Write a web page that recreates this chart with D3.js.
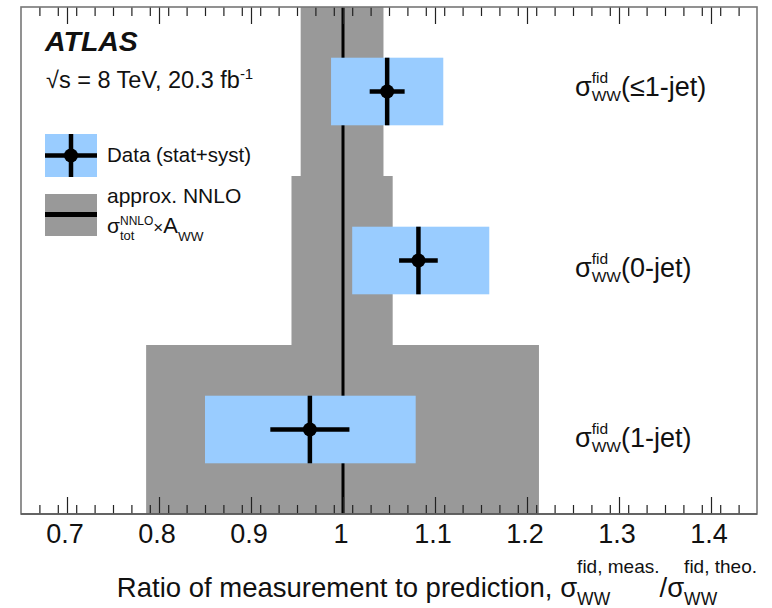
<!DOCTYPE html>
<html>
<head>
<meta charset="utf-8">
<script src="https://cdn.jsdelivr.net/npm/d3@7"></script>
<style>
  html, body { margin: 0; padding: 0; background: #fff; }
  svg { display: block; }
  text { font-family: "Liberation Sans", Arial, Helvetica, sans-serif; fill: #111; white-space: pre; }
</style>
</head>
<body>
<svg id="chart" width="772" height="608"></svg>
<script>
// Fiducial WW cross-section ratios (measured / predicted) per jet multiplicity
const categories = ["≤1-jet", "0-jet", "1-jet"];
const ratio      = [1.048, 1.082, 0.964];
const statErrLo  = [0.019, 0.021, 0.043];
const statErrHi  = [0.019, 0.021, 0.043];
const totErrLo   = [0.061, 0.072, 0.114];
const totErrHi   = [0.061, 0.077, 0.115];

// approx. NNLO prediction band (central value and uncertainty)
const theoCentral = [1.0, 1.0, 1.0];
const theoErrLo   = [0.046, 0.056, 0.214];
const theoErrHi   = [0.044, 0.054, 0.213];

// x axis ticks
const majorTicks = [0.7, 0.8, 0.9, 1.0, 1.1, 1.2, 1.3, 1.4];
const tickLabels = ["0.7", "0.8", "0.9", "1", "1.1", "1.2", "1.3", "1.4"];
const xDomain = [0.65, 1.45];

const svg = d3.select("#chart");
const frame = { left: 21, right: 757, top: 7, bottom: 514 };

const x = d3.scaleLinear().domain(xDomain).range([frame.left, frame.right]);
const y = d3.scaleBand().domain(categories).range([frame.top, frame.bottom]).padding(0);

const rows = categories.map((c, i) => ({
  cat: c, r: ratio[i],
  sLo: ratio[i] - statErrLo[i], sHi: ratio[i] + statErrHi[i],
  tLo: ratio[i] - totErrLo[i], tHi: ratio[i] + totErrHi[i],
  pLo: theoCentral[i] - theoErrLo[i], pHi: theoCentral[i] + theoErrHi[i]
}));

const GRAY = "#999999", BLUE = "#99ccff";

// theory band
svg.append("g").selectAll("rect").data(rows).join("rect")
  .attr("x", d => x(d.pLo)).attr("width", d => x(d.pHi) - x(d.pLo))
  .attr("y", d => y(d.cat)).attr("height", y.bandwidth())
  .attr("fill", GRAY);

// theory central line
svg.append("line")
  .attr("x1", x(1)).attr("x2", x(1))
  .attr("y1", frame.top).attr("y2", frame.bottom)
  .attr("stroke", "#000").attr("stroke-width", 3);

// measurement total-uncertainty boxes
const boxH = y.bandwidth() * 0.4;
const yc = d => y(d.cat) + y.bandwidth() / 2;
svg.append("g").selectAll("rect").data(rows).join("rect")
  .attr("x", d => x(d.tLo)).attr("width", d => x(d.tHi) - x(d.tLo))
  .attr("y", d => yc(d) - boxH / 2).attr("height", boxH)
  .attr("fill", BLUE);

// error bars and markers
const pts = svg.append("g");
pts.selectAll("line.h").data(rows).join("line").attr("class", "h")
  .attr("x1", d => x(d.sLo)).attr("x2", d => x(d.sHi))
  .attr("y1", yc).attr("y2", yc)
  .attr("stroke", "#000").attr("stroke-width", 4.5);
pts.selectAll("line.v").data(rows).join("line").attr("class", "v")
  .attr("x1", d => x(d.r)).attr("x2", d => x(d.r))
  .attr("y1", d => yc(d) - boxH / 2).attr("y2", d => yc(d) + boxH / 2)
  .attr("stroke", "#000").attr("stroke-width", 4.5);
pts.selectAll("circle").data(rows).join("circle")
  .attr("cx", d => x(d.r)).attr("cy", yc).attr("r", 7)
  .attr("fill", "#000");

// frame and ticks
const minorTicks = d3.range(0, 41).map(i => +(xDomain[0] + 0.02 * i).toFixed(3))
  .filter(v => v > xDomain[0] && v < xDomain[1] && !majorTicks.some(m => Math.abs(m - v) < 1e-6));

const axisB = d3.axisBottom(x).tickValues(majorTicks).tickFormat("").tickSize(-17).tickSizeOuter(0);
const axisBm = d3.axisBottom(x).tickValues(minorTicks).tickFormat("").tickSize(-9).tickSizeOuter(0);
const axisT = d3.axisTop(x).tickValues(majorTicks).tickFormat("").tickSize(-17).tickSizeOuter(0);
const axisTm = d3.axisTop(x).tickValues(minorTicks).tickFormat("").tickSize(-9).tickSizeOuter(0);

function styleAxis(g) {
  g.selectAll(".domain").remove();
  g.selectAll(".tick line").attr("stroke", "#222").attr("stroke-width", 1.2);
}
svg.append("g").attr("transform", `translate(0,${frame.bottom})`).call(axisB).call(styleAxis);
svg.append("g").attr("transform", `translate(0,${frame.bottom})`).call(axisBm).call(styleAxis);
svg.append("g").attr("transform", `translate(0,${frame.top})`).call(axisT).call(styleAxis);
svg.append("g").attr("transform", `translate(0,${frame.top})`).call(axisTm).call(styleAxis);

svg.append("rect")
  .attr("x", frame.left).attr("y", frame.top)
  .attr("width", frame.right - frame.left).attr("height", frame.bottom - frame.top)
  .attr("fill", "none").attr("stroke", "#777").attr("stroke-width", 1.6);
svg.append("line")
  .attr("x1", frame.left).attr("x2", frame.right)
  .attr("y1", frame.bottom).attr("y2", frame.bottom)
  .attr("stroke", "#555").attr("stroke-width", 1.6);

// tick labels
svg.append("g").selectAll("text").data(majorTicks).join("text")
  .attr("x", d => x(d) - 2).attr("y", 543)
  .attr("text-anchor", "middle").attr("font-size", 27)
  .text((d, i) => tickLabels[i]);

// one text element with sub/superscript runs; a stack shares one x position
function richText(parent, x0, y0, items, opts = {}) {
  const anchor = opts.anchor || "start";
  const t = parent.append("text")
    .attr("transform", `translate(${x0},${y0})`)
    .attr("font-weight", opts.weight || null)
    .attr("font-style", opts.style || null);
  let cx = 0;
  items.forEach(it => {
    const list = it.stack || [it];
    let w = 0;
    list.forEach(p => {
      const ts = t.append("tspan")
        .attr("x", cx).attr("y", p.dy || 0)
        .attr("font-size", p.size)
        .text(p.t);
      w = Math.max(w, ts.node().getComputedTextLength());
    });
    cx += w;
  });
  const shift = anchor === "end" ? -cx : anchor === "middle" ? -cx / 2 : 0;
  t.attr("transform", `translate(${x0 + shift},${y0})`);
  return t;
}

// category labels on the right
const labelBaselines = [96, 277, 447];
categories.forEach((c, i) => {
  richText(svg, 575, labelBaselines[i], [
    { t: "σ", size: 27 },
    { stack: [{ t: "fid", size: 15.5, dy: -13 }, { t: "WW", size: 15.5, dy: 5 }] },
    { t: "(" + c + ")", size: 27 }
  ]);
});

// x axis title
richText(svg, 757, 597, [
  { t: "Ratio of measurement to prediction, ", size: 27.5 },
  { t: "σ", size: 27.5 },
  { stack: [{ t: "fid, meas.", size: 19, dy: -24 }, { t: "WW", size: 17.5, dy: 8 }] },
  { t: "/", size: 27.5 },
  { t: "σ", size: 27.5 },
  { stack: [{ t: "fid, theo.", size: 19, dy: -24 }, { t: "WW", size: 17.5, dy: 8 }] }
], { anchor: "end" });

// experiment label
richText(svg, 45, 51, [{ t: "ATLAS", size: 28.5 }], { weight: "bold", style: "italic" });
richText(svg, 46, 88, [
  { t: "√s = 8 TeV, 20.3 fb", size: 23.5 },
  { t: "-1", size: 15, dy: -9 }
]);

// legend
const leg = svg.append("g");
const lx = 45, lw = 52;
leg.append("rect").attr("x", lx).attr("y", 134).attr("width", lw).attr("height", 43).attr("fill", BLUE);
leg.append("line").attr("x1", lx).attr("x2", lx + lw).attr("y1", 155.5).attr("y2", 155.5)
  .attr("stroke", "#000").attr("stroke-width", 4.5);
leg.append("line").attr("x1", lx + lw / 2).attr("x2", lx + lw / 2).attr("y1", 134).attr("y2", 177)
  .attr("stroke", "#000").attr("stroke-width", 4.5);
leg.append("circle").attr("cx", lx + lw / 2).attr("cy", 155.5).attr("r", 7).attr("fill", "#000");
richText(leg, 107, 162, [{ t: "Data (stat+syst)", size: 20.5 }]);

leg.append("rect").attr("x", lx).attr("y", 194).attr("width", lw).attr("height", 42).attr("fill", GRAY);
leg.append("line").attr("x1", lx).attr("x2", lx + lw).attr("y1", 214.5).attr("y2", 214.5)
  .attr("stroke", "#000").attr("stroke-width", 5);
richText(leg, 107, 203, [{ t: "approx. NNLO", size: 21 }]);
richText(leg, 107, 233, [
  { t: "σ", size: 21 },
  { stack: [{ t: "NNLO", size: 12, dy: -8 }, { t: "tot", size: 13, dy: 7 }] },
  { t: "×", size: 17 },
  { t: "A", size: 22 },
  { t: "WW", size: 13.5, dy: 8 }
]);
</script>
</body>
</html>
